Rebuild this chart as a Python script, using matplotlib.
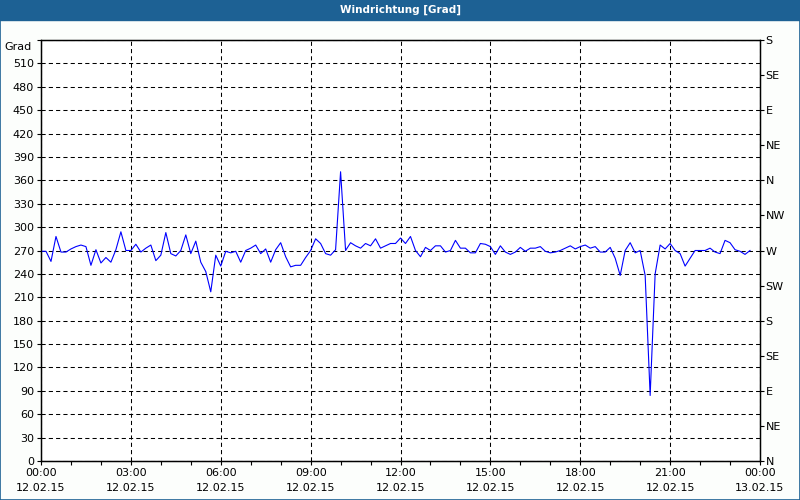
import numpy as np
import pandas as pd
import matplotlib
matplotlib.use("Agg")
import matplotlib.pyplot as plt
import matplotlib.dates as mdates
import matplotlib.transforms as mtransforms
from matplotlib.patches import Rectangle

# 10-minute wind direction readings, 12.02.15 00:00 .. 23:40
direction = [
    269, 269, 256, 288, 268, 268, 272, 275, 277, 275, 251, 271,
    254, 261, 255, 271, 294, 270, 270, 278, 268, 273, 277, 257,
    264, 293, 266, 263, 270, 290, 266, 282, 255, 243, 217, 264,
    250, 269, 267, 269, 255, 270, 273, 277, 266, 272, 255, 271,
    280, 262, 249, 251, 251, 261, 270, 285, 279, 266, 264, 271,
    371, 270, 280, 276, 273, 279, 276, 285, 273, 276, 279, 279,
    286, 279, 288, 270, 262, 274, 270, 276, 276, 268, 270, 283,
    273, 273, 267, 267, 279, 278, 275, 265, 276, 268, 265, 268,
    274, 269, 273, 273, 275, 269, 267, 268, 270, 273, 276, 272,
    275, 277, 273, 275, 268, 268, 274, 260, 238, 270, 280, 267,
    270, 238, 84, 240, 277, 272, 279, 270, 266, 250, 260, 270,
    270, 270, 273, 268, 266, 283, 280, 271, 269, 265, 270,
]
times = pd.date_range("2015-02-12 00:00", periods=len(direction), freq="10min")

deg_ticks = list(range(0, 541, 30))
deg_labels = [str(d) for d in deg_ticks[:-1]] + ["Grad"]
compass_ticks = list(range(0, 541, 45))
compass_labels = ["N", "NE", "E", "SE", "S", "SW", "W", "NW",
                  "N", "NE", "E", "SE", "S"]

bar_color = "#1d6194"

fig = plt.figure(figsize=(8, 5), dpi=100, facecolor="#fcfefc")
fig.patches.append(Rectangle((0, 1 - 20 / 500), 1, 20 / 500,
                             transform=fig.transFigure, color=bar_color, zorder=0))
fig.patches.append(Rectangle((0.0006, 0.001), 0.9988, 0.998, transform=fig.transFigure,
                             fill=False, edgecolor=bar_color, lw=1.2, zorder=0))
fig.text(0.5, 1 - 10 / 500, "Windrichtung [Grad]", color="white", fontsize=7.5,
         fontweight="bold", ha="center", va="center")

ax = fig.add_axes([41 / 800, 39 / 500, 719 / 800, 421 / 500])
ax.set_facecolor("white")
ax.plot(times, direction, color="#0000ff", lw=0.8, zorder=3)

ax.set_ylim(0, 540)
ax.set_yticks(deg_ticks)
ax.set_yticklabels(deg_labels)
ax.set_xlim(pd.Timestamp("2015-02-12 00:00"), pd.Timestamp("2015-02-13 00:00"))
ax.xaxis.set_major_locator(mdates.HourLocator(byhour=range(0, 24, 3)))
ax.xaxis.set_minor_locator(mdates.HourLocator())
ax.xaxis.set_major_formatter(mdates.DateFormatter("%H:%M\n%d.%m.%y"))

ax.grid(True, which="major", color="black", lw=0.75, linestyle=(0, (4, 3)))
ax.tick_params(axis="both", which="both", direction="out", length=3, width=0.8,
               labelsize=8, pad=2, color="black")
for lab in ax.get_xticklabels():
    lab.set_linespacing(1.6)
# "Grad" sits a little below the top tick
grad = ax.get_yticklabels()[-1]
grad.set_transform(grad.get_transform() +
                   mtransforms.ScaledTranslation(-2 / 72, -4 / 72, fig.dpi_scale_trans))
for s in ax.spines.values():
    s.set_linewidth(1)

ax2 = ax.twinx()
ax2.set_ylim(0, 540)
ax2.set_yticks(compass_ticks)
ax2.set_yticklabels(compass_labels)
ax2.tick_params(axis="y", direction="out", length=3, width=0.8, labelsize=8, pad=1)

fig.savefig("out.png", dpi=100, facecolor=fig.get_facecolor())
